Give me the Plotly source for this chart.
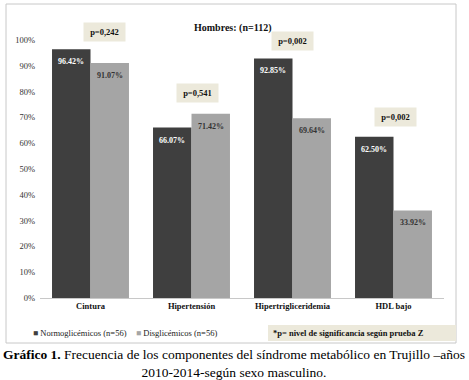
import plotly.graph_objects as go

categories = ["Cintura", "Hipertensión", "Hipertrigliceridemia", "HDL bajo"]
normo = [96.42, 66.07, 92.85, 62.50]
disgl = [91.07, 71.42, 69.64, 33.92]
p_values = ["p=0,242", "p=0,541", "p=0,002", "p=0,002"]
series_names = ["Normoglicémicos (n=56)", "Disglicémicos (n=56)"]
y_ticks = [0, 10, 20, 30, 40, 50, 60, 70, 80, 90, 100]

SERIF = "Liberation Serif, Times New Roman, serif"
DARK = "#3f3f3f"
GRAY = "#a5a5a5"
BEIGE = "#ece9db"

# layout-only offsets (pixels) for the p-value boxes
p_box_xshift = [14, 6, 0, 2]
p_box_yshift = [17, 21, 17.5, 20]

W, H = 469, 380
L, R, T, B = 40, 25, 40, 82
PW, PH = W - L - R, H - T - B


def px(x):
    return (x - L) / PW


def py(y):
    return (H - B - y) / PH


fig = go.Figure()
fig.add_trace(go.Bar(x=categories, y=normo, name=series_names[0],
                     marker=dict(color=DARK, line=dict(width=0))))
fig.add_trace(go.Bar(x=categories, y=disgl, name=series_names[1],
                     marker=dict(color=GRAY, line=dict(width=0))))

annotations = []
for c, a, b in zip(categories, normo, disgl):
    annotations.append(dict(x=c, y=a, xref="x", yref="y", xshift=-19.5, yshift=-6,
                            yanchor="top", showarrow=False, text=f"<b>{a:.2f}%</b>",
                            font=dict(family=SERIF, size=8, color="white")))
    annotations.append(dict(x=c, y=b, xref="x", yref="y", xshift=19.5, yshift=-6,
                            yanchor="top", showarrow=False, text=f"<b>{b:.2f}%</b>",
                            font=dict(family=SERIF, size=8, color="#333333")))

for c, a, b, p, xs, ys in zip(categories, normo, disgl, p_values, p_box_xshift, p_box_yshift):
    annotations.append(dict(x=c, y=max(a, b), xref="x", yref="y", xshift=xs, yshift=ys,
                            yanchor="middle", showarrow=False, text=f"<b>&nbsp;{p}&nbsp;</b>",
                            bgcolor=BEIGE, borderpad=4,
                            font=dict(family=SERIF, size=8.5, color="#111111")))

annotations.append(dict(x=px(232), y=py(20), xref="paper", yref="paper", showarrow=False,
                        text="<b>Hombres: (n=112)</b>",
                        font=dict(family=SERIF, size=10, color="#111111")))

legend_x = [31, 134]
for name, col, lx in zip(series_names, [DARK, GRAY], legend_x):
    annotations.append(dict(x=px(lx), y=py(333), xref="paper", yref="paper",
                            xanchor="left", yanchor="middle", showarrow=False,
                            text=f"<span style='color:{col}'>■</span> {name}",
                            font=dict(family=SERIF, size=8.5, color="#222222")))

annotations.append(dict(x=px(271), y=py(333), xref="paper", yref="paper",
                        showarrow=False, xanchor="left", yanchor="middle",
                        text="<b>*p= nivel de significancia según prueba Z</b>",
                        font=dict(family=SERIF, size=8.5, color="#111111")))

annotations.append(dict(x=px(234), y=py(345), xref="paper", yref="paper",
                        showarrow=False, xanchor="center", yanchor="top", align="center",
                        text="<b>Gráfico 1.</b> Frecuencia de los componentes del síndrome metabólico en Trujillo –años<br>2010-2014-según sexo masculino.",
                        font=dict(family=SERIF, size=13.5, color="#000000")))

shapes = [
    dict(type="rect", xref="paper", yref="paper",
         x0=px(6), x1=px(456), y0=py(343), y1=py(4),
         line=dict(color="#c8c8c8", width=1), fillcolor="rgba(0,0,0,0)", layer="below"),
    dict(type="rect", xref="paper", yref="paper",
         x0=px(268), x1=px(456), y0=py(341), y1=py(325),
         line=dict(width=0), fillcolor=BEIGE, layer="below"),
]

fig.update_layout(
    width=W, height=H,
    margin=dict(l=L, r=R, t=T, b=B, autoexpand=False),
    paper_bgcolor="white", plot_bgcolor="white",
    barmode="group", bargap=0.238, bargroupgap=0,
    showlegend=False,
    annotations=annotations,
    shapes=shapes,
    xaxis=dict(showgrid=False, showline=True, linecolor="#c8c8c8", linewidth=1,
               ticks="", automargin=False,
               tickvals=categories, ticktext=[f"<b>{c}</b>" for c in categories],
               tickfont=dict(family=SERIF, size=8.5, color="#111111")),
    yaxis=dict(range=[0, 100], tickvals=y_ticks, ticktext=[f"{v}%" for v in y_ticks],
               showgrid=False, showline=False, zeroline=False, ticks="", automargin=False,
               ticklabelstandoff=4,
               tickfont=dict(family=SERIF, size=8.5, color="#333333")),
)

fig.write_html("out.html",
               config={"displayModeBar": False},
               post_script="document.body.style.margin='0';document.body.style.padding='0';")
